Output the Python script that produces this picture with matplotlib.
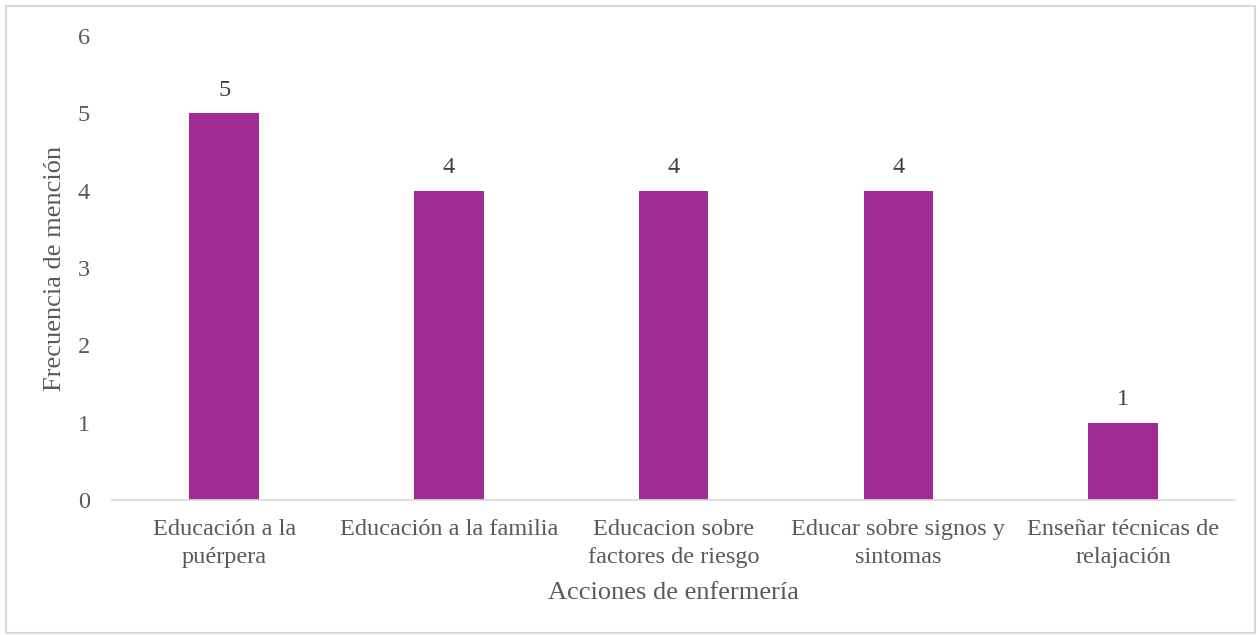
import matplotlib.pyplot as plt
from matplotlib.patches import Rectangle

categories = ['Educación a la\npuérpera', 'Educación a la familia',
              'Educacion sobre\nfactores de riesgo', 'Educar sobre signos y\nsintomas',
              'Enseñar técnicas de\nrelajación']
values = [5, 4, 4, 4, 1]
y_ticks = [0, 1, 2, 3, 4, 5, 6]

plt.rcParams['font.family'] = ['Liberation Serif', 'DejaVu Serif']
text_color = '#595959'
bar_color = '#A02B93'

fig = plt.figure(figsize=(12.58, 6.35), dpi=100)
ax = fig.add_axes([0.089, 0.2126, 0.893, 0.7304])

x = range(len(categories))
bars = ax.bar(x, values, width=0.31, color=bar_color)
for rect, v in zip(bars, values):
    ax.annotate(str(v), (rect.get_x() + rect.get_width() / 2, v),
                xytext=(0, 9), textcoords='offset points',
                ha='center', va='bottom', fontsize=17.5, color='#404040')

ax.set_xlim(-0.5, len(categories) - 0.5)
ax.set_ylim(0, 6)
ax.set_yticks(y_ticks)
ax.set_xticks(list(x))
ax.set_xticklabels(categories, fontsize=17.5, color=text_color, linespacing=1.42)
ax.tick_params(axis='y', length=0, pad=16, labelsize=17.5, labelcolor=text_color)
ax.tick_params(axis='x', length=0, pad=14)

for s in ['top', 'right', 'left']:
    ax.spines[s].set_visible(False)
ax.spines['bottom'].set_color('#D9D9D9')
ax.spines['bottom'].set_linewidth(1.2)

ax.set_xlabel('Acciones de enfermería', fontsize=19, color=text_color, labelpad=10)
ax.set_ylabel('Frecuencia de mención', fontsize=19, color=text_color, labelpad=8)

fig.patches.append(Rectangle((0.005, 0.003), 0.993, 0.988, transform=fig.transFigure,
                             fill=False, edgecolor='#D9D9D9', linewidth=1.5))

fig.savefig('out.png', dpi=100)
